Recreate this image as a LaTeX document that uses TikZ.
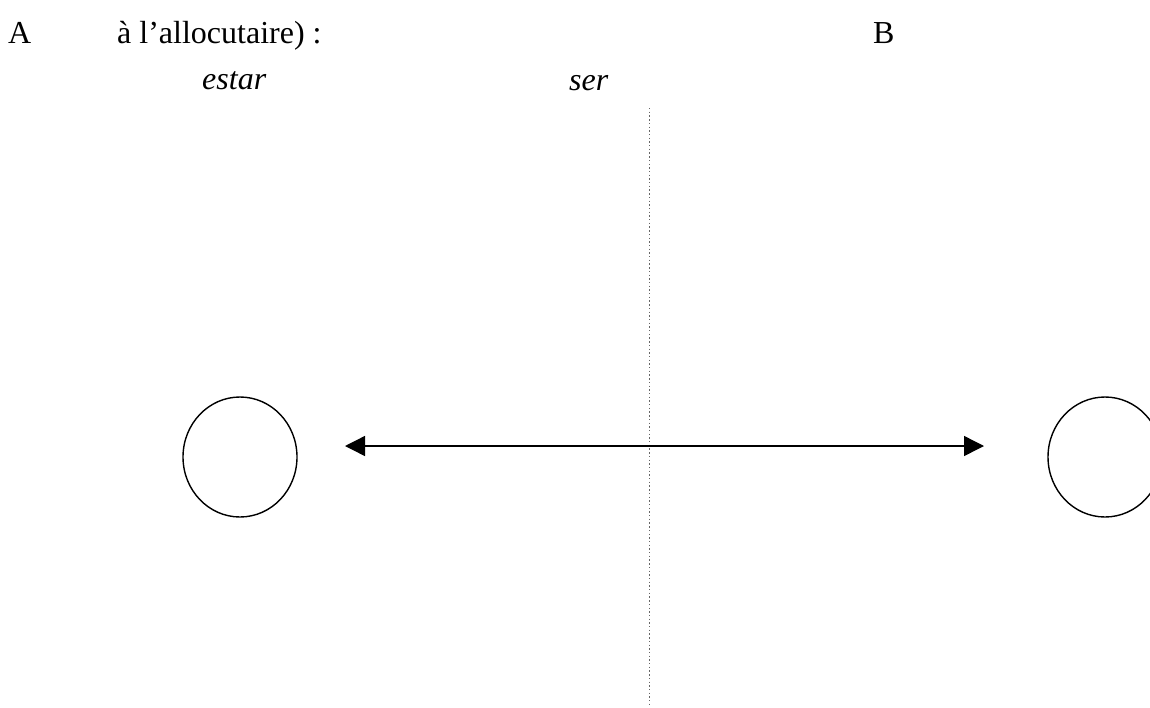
\documentclass[tikz,border=0pt]{standalone}
\usepackage{fontspec}
\setmainfont{Liberation Serif}
\usetikzlibrary{arrows.meta,shapes.geometric}
\tikzset{
  txt/.style={anchor=base west,inner sep=0pt},
  pole/.style={draw,ellipse,line width=1.4pt,minimum width=114pt,minimum height=120pt,inner sep=0pt},
  axis/.style={line width=1.4pt,{Triangle[length=20pt,width=20pt]}-{Triangle[length=20pt,width=20pt]}},
  divider/.style={gray!80!black,line width=1pt,dash pattern=on 1.4pt off 2.3pt}
}

\begin{document}
\begin{tikzpicture}[x=1pt,y=-1pt,font=\fontsize{32}{38}\selectfont]
  \useasboundingbox (0,0) rectangle (1150,707);
  \node[txt] (lblA) at (8,43) {A};
  \node[txt] (intro) at (117,43) {à l’allocutaire) :};
  \node[txt] (lblB) at (873,43) {B};
  \node[txt] (estar) at (202,89) {\itshape estar};
  \node[txt] (ser) at (569,90) {\itshape ser};

  % the two poles
  \node[pole] (poleA) at (240,457) {};
  \node[pole] (poleB) at (1105,457) {};

  % separation line
  \coordinate (top) at (649,108);
  \coordinate (bottom) at (649,707);
  \draw[divider] (top) -- (bottom);

  \coordinate (endA) at (345,446);
  \coordinate (endB) at (984,446);
  \draw[axis] (endA) -- (endB);
\end{tikzpicture}
\end{document}
